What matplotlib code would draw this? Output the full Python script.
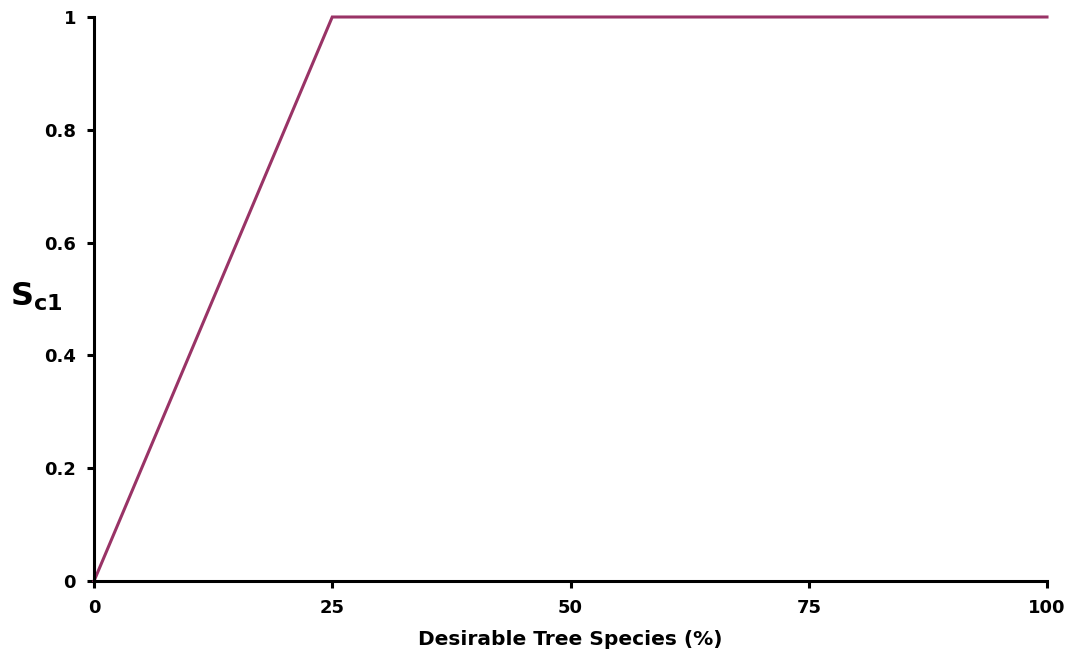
import matplotlib
matplotlib.use('Agg')
import matplotlib.pyplot as plt

# Data
species_pct = [0, 25, 100]
sc1 = [0, 1, 1]
x_ticks = [0, 25, 50, 75, 100]
y_ticks = [0, 0.2, 0.4, 0.6, 0.8, 1]
y_tick_labels = ['0', '0.2', '0.4', '0.6', '0.8', '1']

fig = plt.figure(figsize=(10.7, 6.58), dpi=100)
ax = fig.add_axes([94 / 1070, 77 / 658, 953 / 1070, 564 / 658])

ax.plot(species_pct, sc1, color='#993366', linewidth=2.2, clip_on=False,
        solid_joinstyle='miter')

ax.set_xlim(0, 100)
ax.set_ylim(0, 1)
ax.set_xticks(x_ticks)
ax.set_xticklabels([str(t) for t in x_ticks])
ax.set_yticks(y_ticks)
ax.set_yticklabels(y_tick_labels)

for side in ['top', 'right']:
    ax.spines[side].set_visible(False)
for side in ['left', 'bottom']:
    ax.spines[side].set_linewidth(2.2)

ax.tick_params(direction='out', length=5, width=2.2, labelsize=13, pad=8)
for lbl in ax.get_xticklabels() + ax.get_yticklabels():
    lbl.set_fontweight('bold')

ax.set_xlabel('Desirable Tree Species (%)', fontsize=14.5, fontweight='bold', labelpad=9)
fig.text(10 / 1070, 1 - 297 / 658, r'$\mathbf{S_{c1}}$', fontsize=23,
         ha='left', va='center')

fig.savefig('out.png', dpi=100)
